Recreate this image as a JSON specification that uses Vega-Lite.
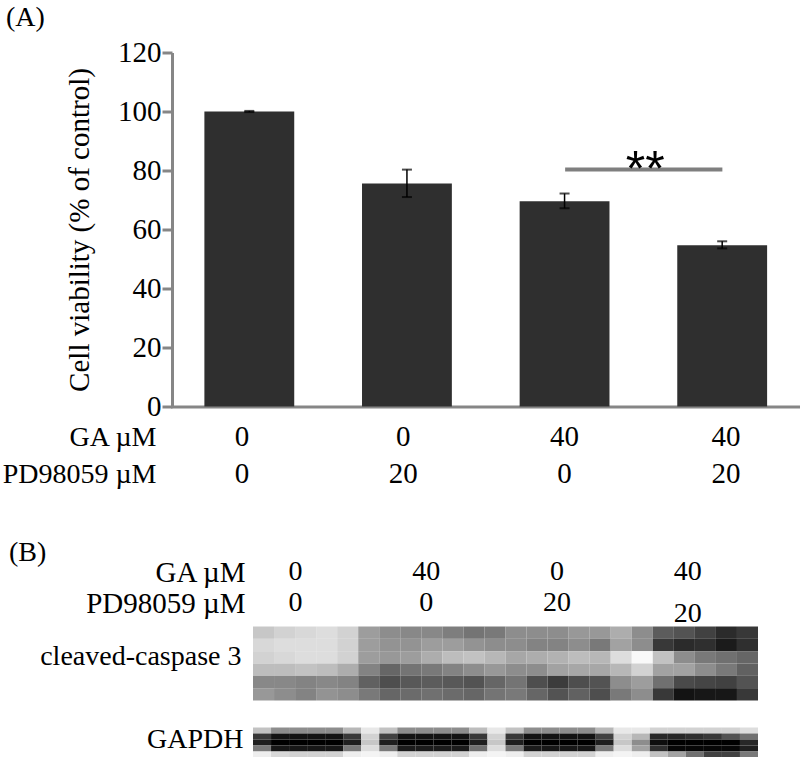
{"$schema":"https://vega.github.io/schema/vega-lite/v6.json","background":"white","padding":{"left":2,"top":3.5,"right":0,"bottom":0},"bounds":"flush","spacing":0,"config":{"view":{"stroke":null},"font":"Liberation Serif","axis":{"grid":false,"labelFont":"Liberation Serif","titleFont":"Liberation Serif"},"title":{"font":"Liberation Serif","fontWeight":"normal"}},"vconcat":[
{"width":629,"height":354,"title":{"text":"(A)","anchor":"start","frame":"group","dx":-166,"offset":7,"fontSize":28,"color":"black"},
"data":{"values":[{"group":"a","mean":100,"low":99.8,"high":100.2},{"group":"b","mean":75.6,"low":71,"high":80.3},{"group":"c","mean":69.6,"low":67.2,"high":72.2},{"group":"d","mean":54.7,"low":53.6,"high":56}]},
"resolve":{"scale":{"x":"independent"}},
"layer":[
{"layer":[
{"mark":{"type":"bar","color":"#2f2f2f"},"encoding":{"x":{"field":"group","type":"nominal","scale":{"range":[-1.5,629],"paddingInner":0.43,"paddingOuter":0.215},"axis":{"title":null,"labels":false,"ticks":false,"domainColor":"#868686","domainWidth":3}},"y":{"field":"mean","type":"quantitative","scale":{"domain":[0,120]},"axis":{"title":"Cell viability (% of control)","titleFontSize":29,"titleFontWeight":"normal","titleColor":"black","titlePadding":23,"labelFontSize":29,"labelColor":"black","labelPadding":1,"tickCount":7,"tickColor":"#868686","tickWidth":3,"tickSize":10,"domainColor":"#868686","domainWidth":3}}}},
{"mark":{"type":"rule","color":"black","strokeWidth":1.5},"encoding":{"x":{"field":"group","type":"nominal"},"y":{"field":"low","type":"quantitative"},"y2":{"field":"high"}}},
{"mark":{"type":"tick","color":"black","thickness":2,"size":10},"encoding":{"x":{"field":"group","type":"nominal"},"y":{"field":"low","type":"quantitative"}}},
{"mark":{"type":"tick","color":"black","thickness":2,"size":10},"encoding":{"x":{"field":"group","type":"nominal"},"y":{"field":"high","type":"quantitative"}}}
]},
{"data":{"values":[{"from":2.5,"to":3.5,"level":80.3,"mid":3.01,"label":"**"}]},"layer":[
{"mark":{"type":"rule","color":"#7f7f7f","strokeWidth":4},"encoding":{"x":{"field":"from","type":"quantitative","scale":{"domain":[0,4]},"axis":null},"x2":{"field":"to"},"y":{"field":"level","type":"quantitative"}}},
{"mark":{"type":"text","font":"Liberation Sans","fontSize":50,"baseline":"alphabetic","dy":16,"color":"black"},"encoding":{"x":{"field":"mid","type":"quantitative","scale":{"domain":[0,4]},"axis":null},"y":{"field":"level","type":"quantitative"},"text":{"field":"label"}}}
]}
]},
{"width":629,"height":149.5,"data":{"values":[{"row":"GA µM","col":"a","dose":"0"},{"row":"GA µM","col":"b","dose":"0"},{"row":"GA µM","col":"c","dose":"40"},{"row":"GA µM","col":"d","dose":"40"},{"row":"PD98059 µM","col":"a","dose":"0"},{"row":"PD98059 µM","col":"b","dose":"20"},{"row":"PD98059 µM","col":"c","dose":"0"},{"row":"PD98059 µM","col":"d","dose":"20"}]},
"mark":{"type":"text","fontSize":29,"color":"black"},"encoding":{"x":{"field":"col","type":"nominal","scale":{"range":[-10.7,634.6]},"axis":null},"y":{"field":"row","type":"nominal","scale":{"range":[12,86]},"axis":{"title":null,"labelFontSize":28,"labelColor":"black","labelPadding":16,"ticks":false,"domain":false}},"text":{"field":"dose"}}},
{"width":629,"height":70,"title":{"text":"(B)","anchor":"start","frame":"group","dx":-163,"offset":-10,"fontSize":28,"color":"black"},"data":{"values":[{"row":"GA µM","col":"a","dose":"0","low":0},{"row":"GA µM","col":"b","dose":"40","low":0},{"row":"GA µM","col":"c","dose":"0","low":0},{"row":"GA µM","col":"d","dose":"40","low":0},{"row":"PD98059 µM","col":"a","dose":"0","low":0},{"row":"PD98059 µM","col":"b","dose":"0","low":0},{"row":"PD98059 µM","col":"c","dose":"20","low":0},{"row":"PD98059 µM","col":"d","dose":"20","low":1}]},
"layer":[
{"transform":[{"filter":"datum.low==0"}],"mark":{"type":"text","fontSize":28,"color":"black"},"encoding":{"x":{"field":"col","type":"nominal","scale":{"range":[58,581]},"axis":null},"y":{"field":"row","type":"nominal","scale":{"range":[0,62]},"axis":{"title":null,"labelFontSize":29,"labelColor":"black","labelPadding":0,"offset":-73,"ticks":false,"domain":false}},"text":{"field":"dose"}}},
{"transform":[{"filter":"datum.low==1"}],"mark":{"type":"text","fontSize":28,"color":"black","dy":11},"encoding":{"x":{"field":"col","type":"nominal"},"y":{"field":"row","type":"nominal"},"text":{"field":"dose"}}}
]},
{"width":629,"height":74,"data":{"values":[
{"c":0,"r":0,"v":205},{"c":1,"r":0,"v":215},{"c":2,"r":0,"v":220},{"c":3,"r":0,"v":225},{"c":4,"r":0,"v":215},{"c":5,"r":0,"v":165},{"c":6,"r":0,"v":150},{"c":7,"r":0,"v":145},{"c":8,"r":0,"v":145},{"c":9,"r":0,"v":135},{"c":10,"r":0,"v":125},{"c":11,"r":0,"v":130},{"c":12,"r":0,"v":150},{"c":13,"r":0,"v":150},{"c":14,"r":0,"v":150},{"c":15,"r":0,"v":160},{"c":16,"r":0,"v":160},{"c":17,"r":0,"v":180},{"c":18,"r":0,"v":150},{"c":19,"r":0,"v":100},{"c":20,"r":0,"v":90},{"c":21,"r":0,"v":70},{"c":22,"r":0,"v":45},{"c":23,"r":0,"v":60},
{"c":0,"r":1,"v":220},{"c":1,"r":1,"v":225},{"c":2,"r":1,"v":225},{"c":3,"r":1,"v":225},{"c":4,"r":1,"v":215},{"c":5,"r":1,"v":165},{"c":6,"r":1,"v":155},{"c":7,"r":1,"v":155},{"c":8,"r":1,"v":165},{"c":9,"r":1,"v":165},{"c":10,"r":1,"v":155},{"c":11,"r":1,"v":150},{"c":12,"r":1,"v":150},{"c":13,"r":1,"v":140},{"c":14,"r":1,"v":140},{"c":15,"r":1,"v":150},{"c":16,"r":1,"v":130},{"c":17,"r":1,"v":170},{"c":18,"r":1,"v":150},{"c":19,"r":1,"v":60},{"c":20,"r":1,"v":45},{"c":21,"r":1,"v":50},{"c":22,"r":1,"v":25},{"c":23,"r":1,"v":50},
{"c":0,"r":2,"v":215},{"c":1,"r":2,"v":220},{"c":2,"r":2,"v":225},{"c":3,"r":2,"v":225},{"c":4,"r":2,"v":215},{"c":5,"r":2,"v":165},{"c":6,"r":2,"v":160},{"c":7,"r":2,"v":165},{"c":8,"r":2,"v":180},{"c":9,"r":2,"v":195},{"c":10,"r":2,"v":200},{"c":11,"r":2,"v":190},{"c":12,"r":2,"v":175},{"c":13,"r":2,"v":180},{"c":14,"r":2,"v":185},{"c":15,"r":2,"v":195},{"c":16,"r":2,"v":190},{"c":17,"r":2,"v":225},{"c":18,"r":2,"v":250},{"c":19,"r":2,"v":200},{"c":20,"r":2,"v":150},{"c":21,"r":2,"v":130},{"c":22,"r":2,"v":120},{"c":23,"r":2,"v":110},
{"c":0,"r":3,"v":195},{"c":1,"r":3,"v":195},{"c":2,"r":3,"v":200},{"c":3,"r":3,"v":195},{"c":4,"r":3,"v":180},{"c":5,"r":3,"v":140},{"c":6,"r":3,"v":110},{"c":7,"r":3,"v":125},{"c":8,"r":3,"v":130},{"c":9,"r":3,"v":140},{"c":10,"r":3,"v":150},{"c":11,"r":3,"v":160},{"c":12,"r":3,"v":150},{"c":13,"r":3,"v":150},{"c":14,"r":3,"v":170},{"c":15,"r":3,"v":175},{"c":16,"r":3,"v":175},{"c":17,"r":3,"v":190},{"c":18,"r":3,"v":215},{"c":19,"r":3,"v":170},{"c":20,"r":3,"v":170},{"c":21,"r":3,"v":150},{"c":22,"r":3,"v":130},{"c":23,"r":3,"v":105},
{"c":0,"r":4,"v":145},{"c":1,"r":4,"v":145},{"c":2,"r":4,"v":140},{"c":3,"r":4,"v":145},{"c":4,"r":4,"v":140},{"c":5,"r":4,"v":105},{"c":6,"r":4,"v":85},{"c":7,"r":4,"v":95},{"c":8,"r":4,"v":100},{"c":9,"r":4,"v":95},{"c":10,"r":4,"v":90},{"c":11,"r":4,"v":110},{"c":12,"r":4,"v":125},{"c":13,"r":4,"v":85},{"c":14,"r":4,"v":65},{"c":15,"r":4,"v":85},{"c":16,"r":4,"v":90},{"c":17,"r":4,"v":150},{"c":18,"r":4,"v":165},{"c":19,"r":4,"v":120},{"c":20,"r":4,"v":80},{"c":21,"r":4,"v":75},{"c":22,"r":4,"v":70},{"c":23,"r":4,"v":90},
{"c":0,"r":5,"v":160},{"c":1,"r":5,"v":150},{"c":2,"r":5,"v":140},{"c":3,"r":5,"v":155},{"c":4,"r":5,"v":150},{"c":5,"r":5,"v":130},{"c":6,"r":5,"v":110},{"c":7,"r":5,"v":115},{"c":8,"r":5,"v":120},{"c":9,"r":5,"v":115},{"c":10,"r":5,"v":110},{"c":11,"r":5,"v":125},{"c":12,"r":5,"v":130},{"c":13,"r":5,"v":110},{"c":14,"r":5,"v":90},{"c":15,"r":5,"v":105},{"c":16,"r":5,"v":85},{"c":17,"r":5,"v":130},{"c":18,"r":5,"v":150},{"c":19,"r":5,"v":60},{"c":20,"r":5,"v":15},{"c":21,"r":5,"v":20},{"c":22,"r":5,"v":20},{"c":23,"r":5,"v":60}
]},
"mark":{"type":"rect"},"encoding":{"x":{"field":"c","type":"ordinal","scale":{"range":[81,586],"paddingInner":0,"paddingOuter":0},"axis":null},"y":{"field":"r","type":"ordinal","scale":{"paddingInner":0,"paddingOuter":0},"axis":{"title":"cleaved-caspase 3","titleAngle":0,"titleAlign":"right","titleBaseline":"middle","titleX":69,"titleY":30,"titleFontSize":28,"titleFontWeight":"normal","titleColor":"black","labels":false,"ticks":false,"domain":false}},"color":{"field":"v","type":"quantitative","legend":null,"scale":{"domain":[0,255],"range":["#000000","#ffffff"]}}}},
{"width":629,"height":57,"data":{"values":[
{"c":0,"r":0,"v":200},{"c":1,"r":0,"v":150},{"c":2,"r":0,"v":150},{"c":3,"r":0,"v":150},{"c":4,"r":0,"v":150},{"c":5,"r":0,"v":190},{"c":6,"r":0,"v":235},{"c":7,"r":0,"v":200},{"c":8,"r":0,"v":150},{"c":9,"r":0,"v":150},{"c":10,"r":0,"v":150},{"c":11,"r":0,"v":150},{"c":12,"r":0,"v":195},{"c":13,"r":0,"v":235},{"c":14,"r":0,"v":200},{"c":15,"r":0,"v":150},{"c":16,"r":0,"v":150},{"c":17,"r":0,"v":150},{"c":18,"r":0,"v":150},{"c":19,"r":0,"v":190},{"c":20,"r":0,"v":235},{"c":21,"r":0,"v":235},{"c":22,"r":0,"v":215},{"c":23,"r":0,"v":215},{"c":24,"r":0,"v":215},{"c":25,"r":0,"v":215},{"c":26,"r":0,"v":215},{"c":27,"r":0,"v":225},
{"c":0,"r":1,"v":60},{"c":1,"r":1,"v":15},{"c":2,"r":1,"v":15},{"c":3,"r":1,"v":15},{"c":4,"r":1,"v":15},{"c":5,"r":1,"v":60},{"c":6,"r":1,"v":215},{"c":7,"r":1,"v":70},{"c":8,"r":1,"v":15},{"c":9,"r":1,"v":15},{"c":10,"r":1,"v":15},{"c":11,"r":1,"v":15},{"c":12,"r":1,"v":60},{"c":13,"r":1,"v":215},{"c":14,"r":1,"v":60},{"c":15,"r":1,"v":15},{"c":16,"r":1,"v":15},{"c":17,"r":1,"v":15},{"c":18,"r":1,"v":15},{"c":19,"r":1,"v":70},{"c":20,"r":1,"v":215},{"c":21,"r":1,"v":190},{"c":22,"r":1,"v":40},{"c":23,"r":1,"v":40},{"c":24,"r":1,"v":50},{"c":25,"r":1,"v":60},{"c":26,"r":1,"v":90},{"c":27,"r":1,"v":120},
{"c":0,"r":2,"v":30},{"c":1,"r":2,"v":0},{"c":2,"r":2,"v":0},{"c":3,"r":2,"v":0},{"c":4,"r":2,"v":0},{"c":5,"r":2,"v":30},{"c":6,"r":2,"v":205},{"c":7,"r":2,"v":30},{"c":8,"r":2,"v":0},{"c":9,"r":2,"v":0},{"c":10,"r":2,"v":0},{"c":11,"r":2,"v":0},{"c":12,"r":2,"v":30},{"c":13,"r":2,"v":205},{"c":14,"r":2,"v":30},{"c":15,"r":2,"v":0},{"c":16,"r":2,"v":0},{"c":17,"r":2,"v":0},{"c":18,"r":2,"v":0},{"c":19,"r":2,"v":30},{"c":20,"r":2,"v":205},{"c":21,"r":2,"v":150},{"c":22,"r":2,"v":10},{"c":23,"r":2,"v":0},{"c":24,"r":2,"v":0},{"c":25,"r":2,"v":0},{"c":26,"r":2,"v":0},{"c":27,"r":2,"v":40},
{"c":0,"r":3,"v":130},{"c":1,"r":3,"v":20},{"c":2,"r":3,"v":20},{"c":3,"r":3,"v":20},{"c":4,"r":3,"v":20},{"c":5,"r":3,"v":130},{"c":6,"r":3,"v":225},{"c":7,"r":3,"v":130},{"c":8,"r":3,"v":25},{"c":9,"r":3,"v":25},{"c":10,"r":3,"v":25},{"c":11,"r":3,"v":25},{"c":12,"r":3,"v":120},{"c":13,"r":3,"v":225},{"c":14,"r":3,"v":130},{"c":15,"r":3,"v":25},{"c":16,"r":3,"v":20},{"c":17,"r":3,"v":20},{"c":18,"r":3,"v":20},{"c":19,"r":3,"v":130},{"c":20,"r":3,"v":225},{"c":21,"r":3,"v":170},{"c":22,"r":3,"v":50},{"c":23,"r":3,"v":5},{"c":24,"r":3,"v":5},{"c":25,"r":3,"v":5},{"c":26,"r":3,"v":5},{"c":27,"r":3,"v":30},
{"c":0,"r":4,"v":240},{"c":1,"r":4,"v":220},{"c":2,"r":4,"v":215},{"c":3,"r":4,"v":215},{"c":4,"r":4,"v":215},{"c":5,"r":4,"v":240},{"c":6,"r":4,"v":245},{"c":7,"r":4,"v":240},{"c":8,"r":4,"v":215},{"c":9,"r":4,"v":215},{"c":10,"r":4,"v":215},{"c":11,"r":4,"v":215},{"c":12,"r":4,"v":240},{"c":13,"r":4,"v":245},{"c":14,"r":4,"v":240},{"c":15,"r":4,"v":215},{"c":16,"r":4,"v":215},{"c":17,"r":4,"v":215},{"c":18,"r":4,"v":215},{"c":19,"r":4,"v":240},{"c":20,"r":4,"v":245},{"c":21,"r":4,"v":240},{"c":22,"r":4,"v":200},{"c":23,"r":4,"v":170},{"c":24,"r":4,"v":120},{"c":25,"r":4,"v":70},{"c":26,"r":4,"v":70},{"c":27,"r":4,"v":130}
]},
"mark":{"type":"rect"},"encoding":{"x":{"field":"c","type":"ordinal","scale":{"range":[81,586],"paddingInner":0,"paddingOuter":0},"axis":null},"y":{"field":"r","type":"ordinal","scale":{"range":[27,57],"paddingInner":0,"paddingOuter":0},"axis":{"title":"GAPDH","titleAngle":0,"titleAlign":"right","titleBaseline":"middle","titleX":71,"titleY":39,"titleFontSize":28,"titleFontWeight":"normal","titleColor":"black","labels":false,"ticks":false,"domain":false}},"color":{"field":"v","type":"quantitative","legend":null,"scale":{"domain":[0,255],"range":["#000000","#ffffff"]}}}}
]}
